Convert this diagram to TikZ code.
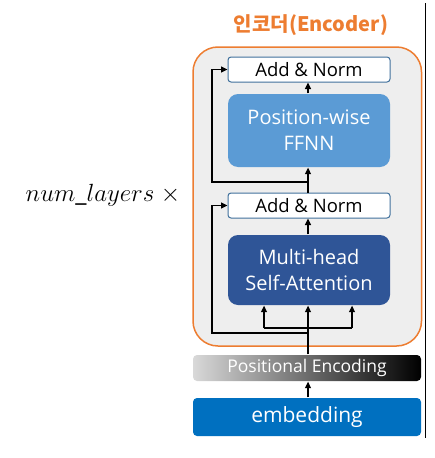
\documentclass[tikz,border=0pt]{standalone}
\usepackage{fontspec}
\setmainfont{Open Sans}
\newfontfamily\krfont{Noto Sans CJK KR}
\usepackage{tikz}
\usetikzlibrary{arrows.meta,calc}
\definecolor{encorange}{HTML}{ED7D31}
\definecolor{encgray}{HTML}{EEEEEE}
\definecolor{normline}{HTML}{41719C}
\definecolor{ffnnblue}{HTML}{5B9BD5}
\definecolor{attnblue}{HTML}{2F5597}
\definecolor{embblue}{HTML}{0070C0}

\tikzset{
  normbox/.style={draw=normline,fill=white,line width=1pt,rounded corners=3pt,
    minimum width=162pt,minimum height=25pt,inner sep=0pt,font=\fontsize{18.5}{20}\selectfont},
  layerbox/.style={rounded corners=10pt,minimum width=162pt,inner sep=0pt,
    text=white,align=center,font=\fontsize{20}{26}\selectfont},
  wide/.style={rounded corners=4pt,minimum width=228pt,inner sep=0pt,text=white},
}

\begin{document}
\begin{tikzpicture}[x=1pt,y=-1pt,>={Triangle[length=6.5pt,width=6pt]},line width=1.3pt]
  \useasboundingbox (0,0) rectangle (434,458);
  % title and outer frame
  \node[font=\krfont\bfseries\fontsize{20}{22}\selectfont,text=encorange] (title) at (311,25) {인코더(Encoder)};
  \draw[line width=1.2pt] (425.5,3) -- (425.5,438);
  \draw[encorange,line width=1.5pt,fill=encgray,rounded corners=25pt] (193,47) rectangle (421.5,346);
  \node[font=\fontsize{25}{28}\selectfont] (layers) at (103,195) {$num\_layers\ \times$};
  % layers
  \node[normbox] (norm1) at (309,69.5) {Add \& Norm};
  \node[layerbox,fill=ffnnblue,minimum height=73pt] (ffnn) at (309,130.5) {Position-wise\\FFNN};
  \node[normbox] (norm2) at (309,205.5) {Add \& Norm};
  \node[layerbox,fill=attnblue,minimum height=70pt] (attn) at (309,270) {Multi-head\\Self-Attention};
  \node[wide,left color=black!15,right color=black,minimum height=26pt,
    font=\fontsize{17.5}{19}\selectfont] (pe) at (307,368) {Positional Encoding};
  \node[wide,fill=embblue,minimum height=38pt,font=\fontsize{21}{24}\selectfont] (emb) at (307,417) {embedding};
  % connectors
  \coordinate (forkl) at (264,328);
  \coordinate (forkr) at (352,328);
  \coordinate (res1) at (308,333);
  \coordinate (res1a) at (212,333);
  \coordinate (res2) at (308,182);
  \coordinate (res2a) at (212,182);
  \draw[->] (emb.north -| res1) -- (pe.south -| res1);
  \draw[->] (pe.north -| res1) -- (attn.south -| res1);
  \draw (forkl) -- (forkr);
  \draw[->] (forkl) -- (attn.south -| forkl);
  \draw[->] (forkr) -- (attn.south -| forkr);
  \draw[->] (res1) -- (res1a) |- (norm2.west);
  \draw[->] (attn.north -| res1) -- (norm2.south -| res1);
  \draw[->] (norm2.north -| res1) -- (ffnn.south -| res1);
  \draw[->] (res2) -- (res2a) |- (norm1.west);
  \draw[->] (ffnn.north -| res1) -- (norm1.south -| res1);
\end{tikzpicture}
\end{document}
